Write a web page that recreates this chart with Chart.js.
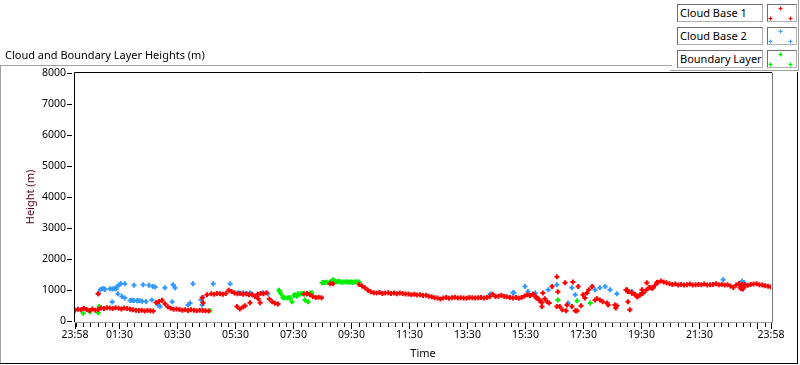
<!DOCTYPE html>
<html><head><meta charset="utf-8">
<script src="https://cdn.jsdelivr.net/npm/chart.js@4/dist/chart.umd.min.js"></script>
<style>
html,body{margin:0;padding:0;background:#fff;}
#wrap{position:relative;width:800px;height:365px;overflow:hidden;font-family:"Noto Sans",sans-serif;background:#fff;}
#c{position:absolute;left:0;top:0;}
.ln{position:absolute;}
#title{position:absolute;left:5px;top:47px;font-size:11px;line-height:15px;color:#000;white-space:nowrap;}
.lgtext{position:absolute;left:677px;width:86px;height:18px;box-sizing:border-box;border:1px solid;border-color:#6e6e6e #b0b0b0 #b0b0b0 #6e6e6e;font-size:11px;line-height:15px;padding-left:2px;background:#fff;white-space:nowrap;color:#000;}
.lgsym{position:absolute;left:767px;width:30px;height:18px;box-sizing:border-box;border:1px solid;border-color:#6e6e6e #b0b0b0 #b0b0b0 #6e6e6e;background:#fff;}
.lgsym canvas{position:absolute;left:0;top:0;}
</style></head>
<body><div id="wrap">
<canvas id="c" width="800" height="365"></canvas>
<div id="title">Cloud and Boundary Layer Heights (m)</div>
<div class="ln" style="left:0;top:65px;width:672px;height:1px;background:#a0a0a0"></div>
<div class="ln" style="left:0;top:65px;width:1px;height:299px;background:#a0a0a0"></div>
<div class="ln" style="left:0;top:363px;width:798px;height:1px;background:#000"></div>
<div class="ln" style="left:797px;top:72px;width:1px;height:292px;background:#000"></div>
<div class="ln" style="left:670px;top:70px;width:129px;height:1px;background:#a0a0a0"></div>
<div class="ln" style="left:798px;top:0;width:1px;height:71px;background:#a0a0a0"></div>
<div class="lgtext" style="top:4px">Cloud Base 1</div>
<div class="lgsym" style="top:4px"><canvas width="28" height="16" id="s0"></canvas></div>
<div class="lgtext" style="top:27px">Cloud Base 2</div>
<div class="lgsym" style="top:27px"><canvas width="28" height="16" id="s1"></canvas></div>
<div class="lgtext" style="top:50px">Boundary Layer</div>
<div class="lgsym" style="top:50px"><canvas width="28" height="16" id="s2"></canvas></div>
</div>
<script>
// ---- Data (x = minutes after 23:58, y = height in m) ----
const seriesNames = ['Cloud Base 1', 'Cloud Base 2', 'Boundary Layer'];
const seriesColors = ['#ff0000', '#3399ff', '#00ee00'];

// Cloud Base 1: continuous record sampled every 6 minutes (null = no detection)
const BAND_STEP_MIN = 6;
const redBandHeights = [
 350,380,360,410,370,340,390,350,370,
 420,400,430,420,400,430,410,390,420,400,
 380,360,350,340,350,320,340,330,320,
 600,630,670,560,460,410,380,390,
 370,350,360,340,360,350,330,350,340,330,320,
 880,860,890,880,860,890,
 990,950,
 900,880,890,860,880,850,860,
 790,
 860,890,880,910,
 710,620,570,550,
 null,null,null,null,null,null,null,null,
 870,890,850,790,760,770,750,
 null,null,null,null,null,null,null,null,null,null,null,null,
 1180,1130,1070,990,940,910,
 900,920,890,900,910,890,900,880,900,890,870,
 870,850,860,840,850,820,830,
 800,780,750,740,710,
 740,760,730,750,770,740,750,740,730,760,750,740,750,760,740,760,780,
 860,790,800,830,790,780,760,740,760,730,760,810,850,830,860,
 750,680,600,
 null,null,null,null,null,null,null,null,null,null,null,null,null,null,
 null,null,null,null,null,null,null,null,null,null,null,null,null,null,
 1000,950,900,860,780,850,910,1000,1080,1060,1150,1250,1290,1260,1230,
 1200,1180,1190,1160,1180,1160,1170,1190,1160,1170,1180,
 1170,1190,1160,1170,1180,1200,1170,1180,1160,1170,
 1130,1080,1160,1210,1180,
 1170,1150,1180,1190,1200,1170,1160,
 1140,1120,1100
];
// Cloud Base 1: scattered extra detections
const redExtraTimes = [48,265,263,273,335,341,348,352,362,379,383,480,528,534,
 941,948,954,960,964,966,968,972,977,981,987,997,999,1003,1008,997,1014,1018,1016,1028,1030,1035,1039,1041,1047,1051,1055,1059,1063,1070,1076,1080,1086,1092,1101,1103,1117,1119,1121,1142,1144,1144,1148,1152,1159,1163,1169,1173,1175,1183,1190,1196,1204,
 1376,1378,1380,1382,1384];
const redExtraHeights = [880,585,750,850,465,390,450,490,585,720,585,880,1200,1200,
 820,860,780,700,620,470,900,720,620,580,1110,1430,940,470,360,470,1230,520,330,470,1260,330,330,1110,490,850,740,900,1010,1110,680,720,680,620,580,520,520,420,490,1010,950,620,360,900,850,780,850,1010,900,1230,1070,1070,1240,
 1080,1050,1120,1030,1100];

// Cloud Base 2
const blueTimes = [48,52,56,60,62,72,77,81,85,77,87,91,95,103,89,97,103,114,118,122,128,130,134,139,122,141,147,153,159,161,166,170,176,172,186,201,203,207,234,238,244,261,263,265,286,321,337,341,348,356,362,366,377,389,399,
 859,906,908,931,937,952,979,997,1020,1028,1035,1070,1076,1086,1097,1107,1121,1152,1341,1380,1384];
const blueHeights = [880,1010,1040,1040,1020,1040,1030,1040,1040,610,1115,1170,1200,1200,880,790,740,660,670,660,650,650,650,640,1150,1170,630,1150,680,1115,1100,580,465,520,1070,620,1170,1070,520,580,1200,680,520,770,1200,1200,910,900,910,880,910,850,790,910,880,
 870,910,910,1115,950,900,1010,1170,580,1070,850,1115,1010,1070,1115,1010,880,950,1330,1280,1240];

// Boundary Layer
const greenTimes = [17,31,48,50,279,422,424,426,430,434,439,443,445,449,453,455,459,461,466,470,474,476,480,482,486,490,
 511,515,519,523,528,532,534,538,542,546,550,554,559,563,567,571,575,579,583,588,
 999,1039,1066];
const greenHeights = [250,300,270,465,335,990,950,880,760,750,740,750,740,620,820,850,800,880,870,890,880,680,870,620,900,910,
 1230,1240,1250,1230,1260,1280,1330,1290,1270,1280,1260,1250,1260,1270,1250,1260,1250,1260,1270,1260,
 680,650,580];

// Axis ticks
const xTickValues = [0,92,212,332,452,572,692,812,932,1052,1172,1292,1440];
const xTickLabels = ['23:58','01:30','03:30','05:30','07:30','09:30','11:30','13:30','15:30','17:30','19:30','21:30','23:58'];
const xMajorMarks = [0,92,212,332,452,572,692,812,932,1052,1172,1292,1412,1440];
const X_MINOR_FIRST = 2, X_MINOR_STEP = 15; // 00:00 and every quarter hour
const yMin = 0, yMax = 8000, yStep = 1000;

// ---- build datasets ----
const redPts = [];
redBandHeights.forEach((h, i) => { if (h !== null) redPts.push({x: i * BAND_STEP_MIN, y: h}); });
redExtraTimes.forEach((t, i) => redPts.push({x: t, y: redExtraHeights[i]}));
const bluePts = blueTimes.map((t, i) => ({x: t, y: blueHeights[i]}));
const greenPts = greenTimes.map((t, i) => ({x: t, y: greenHeights[i]}));

function ds(label, data, color) {
  return {label, data, pointStyle: 'cross', pointRadius: 2.5, pointHoverRadius: 2.5,
    pointBorderWidth: 2, pointBorderColor: color, pointBackgroundColor: color,
    borderColor: color, backgroundColor: color, showLine: false};
}

const FONT = 'Noto Sans';
const framePlugin = {
  id: 'frame',
  afterDraw(chart) {
    const {ctx, chartArea: a, scales: {x, y}} = chart;
    ctx.save();
    ctx.lineWidth = 1;
    function seg(x1, y1, x2, y2, c) { ctx.strokeStyle = c; ctx.beginPath(); ctx.moveTo(x1, y1); ctx.lineTo(x2, y2); ctx.stroke(); }
    // plot frame
    seg(a.left - 0.5, a.top - 0.5, a.right + 1, a.top - 0.5, '#000');
    seg(a.left - 0.5, a.top - 0.5, a.left - 0.5, a.bottom + 1, '#000');
    seg(a.right + 1.5, a.top - 0.5, a.right + 1.5, a.bottom + 1.5, '#7a7a7a');
    seg(a.left - 0.5, a.bottom + 1.5, a.right + 2, a.bottom + 1.5, '#a0a0a0');
    // y ticks
    for (let v = yMin; v <= yMax; v += yStep) {
      const py = Math.round(y.getPixelForValue(v)) + 0.5;
      seg(a.left - 8, py, a.left - 3, py, '#000');
    }
    // x ticks
    for (let m = X_MINOR_FIRST; m < 1440; m += X_MINOR_STEP) {
      if (xMajorMarks.includes(m)) continue;
      const px = Math.round(x.getPixelForValue(m)) + 0.5;
      seg(px, a.bottom + 2, px, a.bottom + 6, '#000');
    }
    xMajorMarks.forEach(m => {
      const px = Math.round(x.getPixelForValue(m)) + 0.5;
      seg(px, a.bottom + 2, px, a.bottom + 8, '#000');
    });
    ctx.restore();
  }
};

new Chart(document.getElementById('c'), {
  type: 'scatter',
  data: {datasets: [
    ds(seriesNames[0], redPts, seriesColors[0]),
    ds(seriesNames[1], bluePts, seriesColors[1]),
    ds(seriesNames[2], greenPts, seriesColors[2])
  ]},
  options: {
    responsive: false, animation: false, devicePixelRatio: 1,
    layout: {padding: {left: 0, top: 73, right: 29, bottom: 0}},
    plugins: {legend: {display: false}, tooltip: {enabled: false}},
    scales: {
      x: {
        type: 'linear', min: 0, max: 1440,
        afterFit(s) { s.height = 44; },
        afterBuildTicks(s) { s.ticks = xTickValues.map(v => ({value: v})); },
        grid: {display: true, drawOnChartArea: false, drawTicks: false, color: 'rgba(0,0,0,0)'},
        border: {display: false},
        ticks: {autoSkip: false, maxRotation: 0, minRotation: 0, padding: 8, color: '#000',
          font: {family: FONT, size: 10.5},
          callback: (v) => { const k = xTickValues.indexOf(v); return k >= 0 ? xTickLabels[k] : ''; }},
        title: {display: true, text: 'Time', color: '#000', font: {family: FONT, size: 11}, padding: {top: 0, bottom: 5}}
      },
      y: {
        min: yMin, max: yMax,
        afterFit(s) { s.width = 75; },
        grid: {display: true, drawOnChartArea: false, drawTicks: false, color: 'rgba(0,0,0,0)'},
        border: {display: false},
        ticks: {stepSize: yStep, padding: 9, color: '#000', font: {family: FONT, size: 10.5},
          callback: (v) => String(v)},
        title: {display: true, text: 'Height (m)', color: '#5a0020', font: {family: FONT, size: 11}, padding: {top: 24, bottom: 0}}
      }
    }
  },
  plugins: [framePlugin]
});

// legend glyphs
seriesColors.forEach((c, i) => {
  const g = document.getElementById('s' + i).getContext('2d');
  g.strokeStyle = c; g.lineWidth = 1;
  [[12.5, 3.5], [2.5, 13.5], [22.5, 13.5]].forEach(([px, py]) => {
    g.beginPath(); g.moveTo(px - 2, py); g.lineTo(px + 2, py); g.moveTo(px, py - 2); g.lineTo(px, py + 2); g.stroke();
  });
});
</script>
</body></html>
